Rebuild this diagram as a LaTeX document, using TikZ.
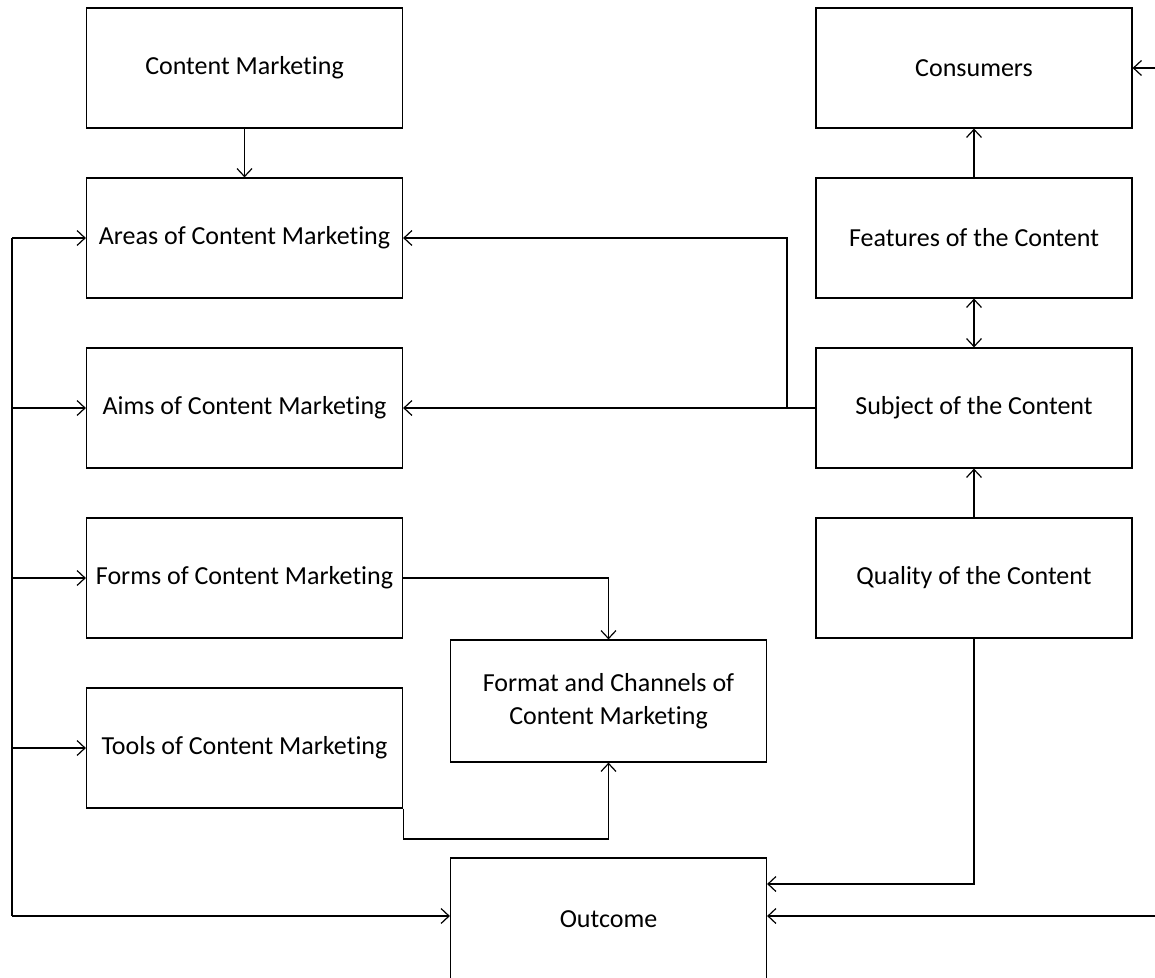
\documentclass[tikz,border=0pt]{standalone}
\usepackage{fontspec}
\setmainfont{Carlito}[Ligatures=NoCommon]
\usetikzlibrary{arrows.meta}

\begin{document}
\begin{tikzpicture}[x=0.5pt,y=-0.5pt]
    \tikzstyle{box}=[draw, line width=0.6pt, minimum width=158pt, minimum height=60pt, inner sep=0pt, align=center, font=\fontsize{13}{16.5}\selectfont]
    \tikzstyle{link}=[line width=0.6pt, -{Straight Barb[length=4pt,width=7.5pt]}]
    \tikzstyle{both}=[line width=0.6pt, {Straight Barb[length=4pt,width=7.5pt]}-{Straight Barb[length=4pt,width=7.5pt]}]
    \useasboundingbox (0,0) rectangle (1155,978);
    % left column
    \node[box] (cm) at (244.5,68) {Content Marketing};
    \node[box] (areas) at (244.5,238) {Areas of Content Marketing};
    \node[box] (aims) at (244.5,408) {Aims of Content Marketing};
    \node[box] (forms) at (244.5,578) {Forms of Content Marketing};
    \node[box] (tools) at (244.5,748) {Tools of Content Marketing};
    % middle
    \node[box, minimum height=61pt] (format) at (608.5,701) {Format and Channels of\\Content Marketing};
    \node[box, minimum height=61pt] (outcome) at (608.5,919) {Outcome};
    % right column
    \node[box] (consumers) at (974,68) {Consumers};
    \node[box] (features) at (974,238) {Features of the Content};
    \node[box] (subject) at (974,408) {Subject of the Content};
    \node[box] (quality) at (974,578) {Quality of the Content};
    % helper points
    \coordinate (busTop) at (12,238);
    \coordinate (busBot) at (12,916);
    \coordinate (branch) at (787,408);
    \coordinate (tturn) at (402,839);
    \coordinate (qturn) at (973,884);
    \coordinate (rightA) at (1155,916);
    \coordinate (rightC) at (1155,68);
    % connectors
    \draw[link] (cm) -- (areas);
    \draw[line width=0.6pt] (busTop) -- (busBot);
    \draw[link] (busTop) -- (areas.west);
    \draw[link] (busTop |- aims.west) -- (aims.west);
    \draw[link] (busTop |- forms.west) -- (forms.west);
    \draw[link] (busTop |- tools.west) -- (tools.west);
    \draw[link] (busBot) -- (outcome.west |- busBot);
    \draw[link] (subject.west) -- (aims.east);
    \draw[link] (branch) |- (areas.east);
    \draw[link] (features) -- (consumers);
    \draw[both] (features) -- (subject);
    \draw[link] (quality) -- (subject);
    \draw[link] (forms.east) -| (format.north);
    \draw[link] (tools.south east) |- (format.south |- tturn) -- (format.south);
    \draw[link] (quality.south) |- (outcome.east |- qturn);
    \draw[link] (rightA) -- (outcome.east |- rightA);
    \draw[link] (rightC) -- (consumers.east);
\end{tikzpicture}
\end{document}
